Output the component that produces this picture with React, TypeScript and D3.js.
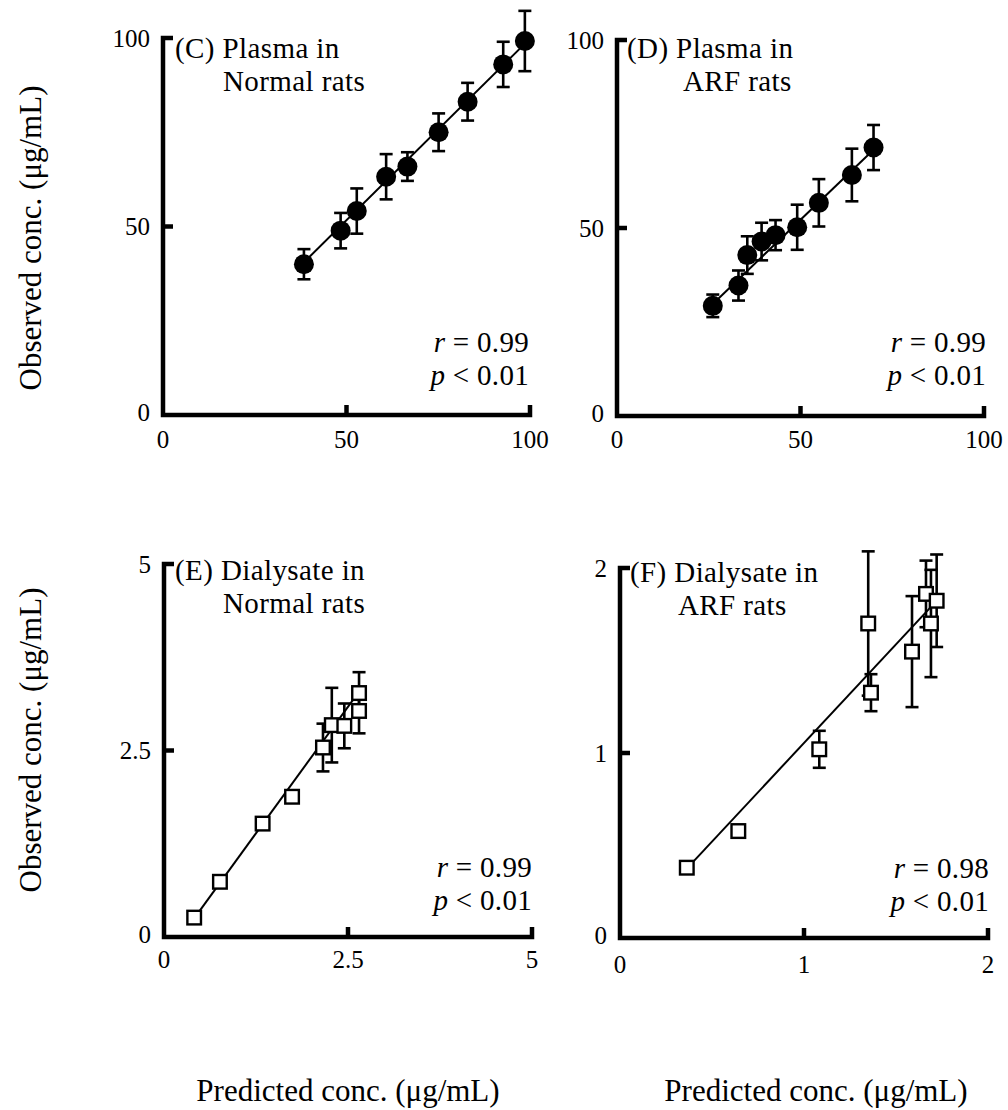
import React from "react";
import * as d3 from "d3";

// ---------- data ----------
const cPredicted = [38.4, 48.4, 52.8, 60.8, 66.6, 75.1, 83.0, 92.7, 98.6];
const cObserved = [40.0, 48.9, 54.1, 63.2, 65.9, 75.0, 83.1, 93.0, 99.2];
const cError = [4.0, 4.7, 6.0, 6.0, 3.8, 5.0, 5.0, 6.0, 8.0];
const cFit = [[38.4, 40.5], [98.6, 98.5]];

const dPredicted = [26.1, 33.1, 35.5, 39.4, 43.2, 49.1, 55.0, 64.0, 69.9];
const dObserved = [29.3, 34.7, 42.8, 46.4, 48.1, 50.2, 56.7, 64.1, 71.4];
const dError = [3.0, 4.0, 5.0, 5.0, 4.0, 6.0, 6.3, 7.0, 6.0];
const dFit = [[26.1, 29.8], [69.9, 70.8]];

const ePredicted = [0.41, 0.76, 1.34, 1.74, 2.16, 2.28, 2.45, 2.65, 2.65];
const eObserved = [0.26, 0.74, 1.52, 1.88, 2.54, 2.84, 2.83, 3.27, 3.03];
const eError = [0.02, 0.03, 0.04, 0.06, 0.32, 0.5, 0.3, 0.28, 0.3];
const eFit = [[0.41, 0.25], [2.65, 3.29]];

const fPredicted = [0.363, 0.643, 1.083, 1.349, 1.364, 1.587, 1.663, 1.69, 1.721];
const fObserved = [0.38, 0.578, 1.02, 1.7, 1.326, 1.548, 1.86, 1.7, 1.823];
const fError = [0.01, 0.01, 0.1, 0.39, 0.1, 0.3, 0.18, 0.29, 0.25];
const fFit = [[0.363, 0.375], [1.69, 1.79]];

const plasmaTicks = [0, 50, 100];
const plasmaTickLabels = ["0", "50", "100"];
const eTicks = [0, 2.5, 5];
const eTickLabels = ["0", "2.5", "5"];
const fTicks = [0, 1, 2];
const fTickLabels = ["0", "1", "2"];

const titlesC = ["(C) Plasma in", "Normal rats"];
const titlesD = ["(D) Plasma in", "ARF rats"];
const titlesE = ["(E) Dialysate in", "Normal rats"];
const titlesF = ["(F) Dialysate in", "ARF rats"];
const rValues = ["0.99", "0.99", "0.99", "0.98"];
const pText = "0.01";
const yTitle = "Observed conc. (\u03bcg/mL)";
const xTitle = "Predicted conc. (\u03bcg/mL)";

const FONT = "'Liberation Serif', 'Times New Roman', Times, serif";

type PanelProps = {
  px: number[];
  py: number[];
  pe: number[];
  fit: number[][];
  max: number;
  ticks: number[];
  tickLabels: string[];
  x0: number; x1: number; y0: number; y1: number;
  titles: string[];
  titleX: number[]; titleY: number[];
  r: string;
  statX: number; statY: number[];
  tickLabelY: number;
  marker: "circle" | "square";
};

function Panel(p: PanelProps) {
  const x = d3.scaleLinear().domain([0, p.max]).range([p.x0, p.x1]);
  const y = d3.scaleLinear().domain([0, p.max]).range([p.y0, p.y1]);
  const tick = 10;
  const axisPath = `M${p.x0 + tick},${y(p.max)} H${p.x0} V${p.y0} H${x(p.max)} V${p.y0 - tick}`;
  const line = d3.line<number[]>().x((d) => x(d[0])).y((d) => y(d[1]));
  const cap = 6.5;
  return (
    <g>
      <path d={axisPath} fill="none" stroke="#000" strokeWidth={4.5} strokeLinejoin="miter" />
      {p.ticks.filter((t) => t > 0 && t < p.max).map((t, i) => (
        <g key={"t" + i}>
          <line x1={p.x0} x2={p.x0 + tick} y1={y(t)} y2={y(t)} stroke="#000" strokeWidth={4.5} />
          <line x1={x(t)} x2={x(t)} y1={p.y0} y2={p.y0 - tick} stroke="#000" strokeWidth={4.5} />
        </g>
      ))}
      {p.ticks.map((t, i) => (
        <text key={"yl" + i} x={p.x0 - 13} y={y(t) - (t === 0 ? 3 : 0)} dy="0.35em" textAnchor="end"
          fontFamily={FONT} fontSize={25}>{p.tickLabels[i]}</text>
      ))}
      {p.ticks.map((t, i) => (
        <text key={"xl" + i} x={x(t)} y={p.tickLabelY} textAnchor="middle"
          fontFamily={FONT} fontSize={25}>{p.tickLabels[i]}</text>
      ))}
      {p.titles.map((s, i) => (
        <text key={"ti" + i} x={p.titleX[i]} y={p.titleY[i]} fontFamily={FONT} fontSize={29}
          letterSpacing={0.4}>{s}</text>
      ))}
      <text x={p.statX} y={p.statY[0]} textAnchor="end" fontFamily={FONT} fontSize={29} letterSpacing={0.3}>
        <tspan fontStyle="italic">r</tspan> = {p.r}
      </text>
      <text x={p.statX} y={p.statY[1]} textAnchor="end" fontFamily={FONT} fontSize={29} letterSpacing={0.3}>
        <tspan fontStyle="italic">p</tspan> &lt; {pText}
      </text>
      <path d={line(p.fit) || ""} fill="none" stroke="#000" strokeWidth={2} />
      {p.px.map((v, i) => (
        <g key={"e" + i}>
          <line x1={x(v)} x2={x(v)} y1={y(p.py[i] - p.pe[i])} y2={y(p.py[i] + p.pe[i])} stroke="#000" strokeWidth={2.6} />
          <line x1={x(v) - cap} x2={x(v) + cap} y1={y(p.py[i] + p.pe[i])} y2={y(p.py[i] + p.pe[i])} stroke="#000" strokeWidth={2.6} />
          <line x1={x(v) - cap} x2={x(v) + cap} y1={y(p.py[i] - p.pe[i])} y2={y(p.py[i] - p.pe[i])} stroke="#000" strokeWidth={2.6} />
        </g>
      ))}
      {p.px.map((v, i) =>
        p.marker === "circle" ? (
          <circle key={"m" + i} cx={x(v)} cy={y(p.py[i])} r={10} fill="#000" />
        ) : (
          <rect key={"m" + i} x={x(v) - 6.8} y={y(p.py[i]) - 6.8} width={13.6} height={13.6}
            fill="#fff" stroke="#000" strokeWidth={2.4} />
        )
      )}
    </g>
  );
}

export default function App() {
  return (
    <svg width={1008} height={1110} style={{ position: "absolute", left: 0, top: 0, background: "#fff" }}>
      <rect width={1008} height={1110} fill="#fff" />
      <Panel px={cPredicted} py={cObserved} pe={cError} fit={cFit} max={100}
        ticks={plasmaTicks} tickLabels={plasmaTickLabels}
        x0={163} x1={530} y0={415} y1={38}
        titles={titlesC} titleX={[175, 223]} titleY={[58, 91]}
        r={rValues[0]} statX={529} statY={[352, 385]} tickLabelY={448} marker="circle" />
      <Panel px={dPredicted} py={dObserved} pe={dError} fit={dFit} max={100}
        ticks={plasmaTicks} tickLabels={plasmaTickLabels}
        x0={617} x1={984} y0={416} y1={40}
        titles={titlesD} titleX={[627, 683]} titleY={[58, 91]}
        r={rValues[1]} statX={986} statY={[352, 385]} tickLabelY={448} marker="circle" />
      <Panel px={ePredicted} py={eObserved} pe={eError} fit={eFit} max={5}
        ticks={eTicks} tickLabels={eTickLabels}
        x0={164} x1={532} y0={937} y1={564}
        titles={titlesE} titleX={[175, 223]} titleY={[580, 613]}
        r={rValues[2]} statX={532} statY={[877, 910]} tickLabelY={968} marker="square" />
      <Panel px={fPredicted} py={fObserved} pe={fError} fit={fFit} max={2}
        ticks={fTicks} tickLabels={fTickLabels}
        x0={620} x1={988} y0={938} y1={568}
        titles={titlesF} titleX={[630, 678]} titleY={[582, 615]}
        r={rValues[3]} statX={989} statY={[878, 911]} tickLabelY={973} marker="square" />
      {[238, 740].map((cy, i) => (
        <text key={"yt" + i} transform={`translate(41,${cy}) rotate(-90)`} textAnchor="middle"
          fontFamily={FONT} fontSize={31}>{yTitle}</text>
      ))}
      {[348, 816].map((cx, i) => (
        <text key={"xt" + i} x={cx} y={1101} textAnchor="middle" fontFamily={FONT} fontSize={31}>{xTitle}</text>
      ))}
    </svg>
  );
}
